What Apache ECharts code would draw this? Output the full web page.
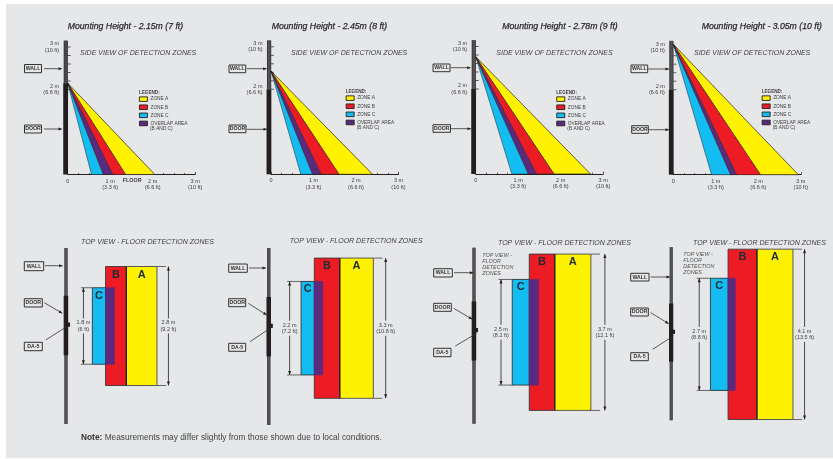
<!DOCTYPE html>
<html><head><meta charset="utf-8">
<style>html,body{margin:0;padding:0;background:#fff}#c{width:833px;height:459px}</style>
<script src="https://cdn.jsdelivr.net/npm/echarts@6/dist/echarts.min.js"></script>
</head><body><div id="c"></div>
<script>
// ---------- DATA (metres) ----------
const mountingTitles = ['Mounting Height - 2.15m (7 ft)','Mounting Height - 2.45m (8 ft)','Mounting Height - 2.78m (9 ft)','Mounting Height - 3.05m (10 ft)'];
const mountingHeights = [2.15, 2.43, 2.76, 3.07];
const doorTops = [2.15, 2, 2, 2];
// floor distance where each zone boundary lands, side view
const sideCStart = [0.56, 0.70, 0.85, 0.90];
const sideCEnd   = [0.84, 0.98, 1.24, 1.35];
const sideBEnd0  = [1.06, 1.18, 1.43, 1.49];
const sideAStart = [1.36, 1.60, 1.84, 2.05];
const sideAEnd   = [2.05, 2.39, 2.70, 2.94];
// top view zone boundaries
const topCLeft   = [0.58, 0.72, 0.86, 0.94];
const topBLeft   = [0.89, 1.03, 1.26, 1.38];
const topOverlap = [1.10, 1.23, 1.48, 1.56];
const topAB      = [1.38, 1.63, 1.86, 2.10];
const topARight  = [2.10, 2.42, 2.71, 3.00];
const topLengthAB = [2.8, 3.3, 3.7, 4.1];
const topLengthC  = [1.8, 2.2, 2.5, 2.7];
const dimLabelsC = ['1.8 m\n(6 ft)','2.2 m\n(7.2 ft)','2.5 m\n(8.2 ft)','2.7 m\n(8.8 ft)'];
const dimLabelsAB = ['2.8 m\n(9.2 ft)','3.3 m\n(10.8 ft)','3.7 m\n(12.1 ft)','4.1 m\n(13.5 ft)'];
const dimXC = [0.37, 0.45, 0.595, 0.66];
const dimXAB = [2.37, 2.71, 3.04, 3.29];
const xTickLabels = {0:'0',1:'1 m\n(3.3 ft)',2:'2 m\n(6.6 ft)',3:'3 m\n(10 ft)'};
const yTickLabels = {2:'2 m\n(6.6 ft)',3:'3 m\n(10 ft)'};
const wallTicks = [2,2.2,2.4,2.6,2.8,3];
const legendNames = ['ZONE A','ZONE B','ZONE C','OVERLAP AREA'];
const noteRest = ' Measurements may differ slightly from those shown due to local conditions.';

// ---------- LAYOUT (pixels) ----------
const W=833,H=459,S=42.5;
const sideOrigin=[[67.7,174.5],[271,174.3],[475.7,174],[673.3,174.7]];
const topOrigin=[[67.7,326],[270.5,328.2],[475.7,333],[672.8,337.2]];
const wallTopPx=[248,248,248,248], wallBottomPx=[424,425,425,425];
const doorCenterPx=[325.5,326.7,331.7,335.5];
const mountX=[67.7,271.7,502.3,701.7];
const sideHead=[[80,52.3],[291,52.3],[496.3,52.3],[694,52.3]];
const topHead=[[81,241.3],[289.7,240.3],[498,242.3],[693,242.3]];
const legendPos=[[139,93],[345.7,92],[556.3,93],[761.7,92]];
const topNotes=[null,null,[482.3,252.5],[683.3,251.5]];
const callouts=[
 // box l,r,t,b,text, line from, line to, arrow?
 [24.5,41.5,64.5,72.7,'WALL',[44,68.7],[62,68.7],1],[24.5,41.5,125,133,'DOOR',[44,129],[62,129],1],
 [229,245.7,65,72.7,'WALL',[246.7,68.7],[266.7,68.7],1],[229,246,125,132.7,'DOOR',[247,129.3],[267,129.3],1],
 [433,450,64,71.7,'WALL',[450.7,67.7],[470.7,67.7],1],[433,450.5,124.7,132.3,'DOOR',[451,128.7],[471,128.7],1],
 [631,647.7,65,72.7,'WALL',[648,69],[669,69],1],[631.7,648.3,125.7,133.3,'DOOR',[649,129.7],[669,129.7],1],
 [24.3,43.7,261.7,270.7,'WALL',[45,265.7],[62.7,265.7],1],[24.3,42.3,298.7,307,'DOOR',[44.3,302.7],[62.3,313.3],1],[24.3,42.3,342.3,350.7,'DA-5',[45.7,340],[66.7,326.7],0],
 [228.7,247.3,264,272.3,'WALL',[249,268],[266,268],1],[228.7,245.7,298.7,306.7,'DOOR',[248.3,303.3],[266.7,315],1],[228.7,245.7,343.3,351.3,'DA-5',[250,341.7],[270,328.3],0],
 [433.7,452.3,268.7,277,'WALL',[454,272.7],[473.3,272.7],1],[433.7,451.3,303.3,311.3,'DOOR',[453.7,308.3],[472.3,319.3],1],[433.7,451,348.3,356.7,'DA-5',[455.3,346],[476.7,333.3],0],
 [630.7,649,273.3,281,'WALL',[650.7,277],[670,277],1],[630.7,648.3,308,316,'DOOR',[650.7,312.7],[668.7,323.7],1],[630.7,648.3,352.7,360.7,'DA-5',[652.7,349.3],[673.3,336],0]
];
const FONT='"Liberation Sans",Arial,sans-serif';
const INK='#231f20', TXT='#3d3d3f', BG='#e6e7e9';
const COL={A:'#fff200',B:'#ed1c24',C:'#13bdf1',O:'#5b2a7e'};

const grids=[],xAxes=[],yAxes=[],series=[],titles=[],legends=[];
const base={type:'custom',silent:true,clip:false,animation:false,tooltip:{show:false}};

function polySeries(name,g,pts,fill,stroke,lw,z,dash){
  series.push(Object.assign({},base,{name,xAxisIndex:g,yAxisIndex:g,z,data:pts,itemStyle:{color:fill},
    renderItem(p,api){ if(p.dataIndex!==0) return;
      return {type:'polygon',shape:{points:pts.map(q=>api.coord(q))},style:{fill,stroke,lineWidth:lw,lineJoin:'bevel',lineDash:dash||null}}; }}));
}
function rectPts(x0,x1,y0,y1){return [[x0,y0],[x1,y0],[x1,y1],[x0,y1]];}

mountingTitles.forEach((t,i)=>{
  // ---- side view ----
  const [ox,oy]=sideOrigin[i], h=mountingHeights[i];
  let g=grids.length;
  grids.push({left:ox,top:oy-3*S,width:3*S,height:3*S,containLabel:false});
  xAxes.push({gridIndex:g,type:'value',min:0,max:3,interval:1,splitLine:{show:false},
    axisLine:{show:true,onZero:false,lineStyle:{color:INK,width:1}},
    axisTick:{show:true,inside:true,length:2.5,lineStyle:{color:INK,width:0.7}},
    minorTick:{show:true,splitNumber:4,length:1.5,lineStyle:{color:INK,width:0.7}},
    axisLabel:{show:true,margin:3.5,fontFamily:FONT,fontSize:5.5,lineHeight:6.3,color:TXT,verticalAlign:'top',showMinLabel:true,showMaxLabel:true,formatter:v=>xTickLabels[v]||''}});
  yAxes.push({gridIndex:g,type:'value',min:0,max:3,interval:1,splitLine:{show:false},axisLine:{show:false},axisTick:{show:false},
    axisLabel:{show:true,margin:8.5,fontFamily:FONT,fontSize:5.5,lineHeight:6.3,color:TXT,showMaxLabel:true,formatter:v=>yTickLabels[v]||''}});
  // wall ticks
  series.push(Object.assign({},base,{name:'wall ticks',xAxisIndex:g,yAxisIndex:g,z:2,data:wallTicks.map(v=>[0,v]),
    renderItem(p,api){const c=api.coord([0,api.value(1)]);
      return {type:'line',shape:{x1:c[0],y1:c[1],x2:c[0]+3,y2:c[1]},style:{stroke:INK,lineWidth:0.7}};}}));
  // wall
  polySeries('wall',g,rectPts(-0.095,0.005,doorTops[i],3.15),'#38383a',null,0,3);
  polySeries('wall texture',g,[[-0.045,doorTops[i]],[-0.045,3.15]],null,'#5c5c5f',2.4,3,[0.8,1.2]);
  polySeries('door',g,rectPts(-0.105,0.008,0,doorTops[i]),INK,null,0,3);
  // zones
  const tri=(a,b)=>[[0,h],[a,0],[b,0]];
  polySeries(legendNames[0],g,tri(sideAStart[i],sideAEnd[i]),COL.A,INK,0.7,4);
  polySeries(legendNames[1],g,tri(sideBEnd0[i],sideAStart[i]),COL.B,INK,0.45,4);
  polySeries(legendNames[2],g,tri(sideCStart[i],sideCEnd[i]),COL.C,INK,0.5,4);
  polySeries(legendNames[3],g,tri(sideCEnd[i],sideBEnd0[i]),COL.O,INK,0.45,4);

  // ---- top view ----
  const [tx,ty]=topOrigin[i];
  g=grids.length;
  grids.push({left:tx,top:ty-3*S,width:4*S,height:6*S});
  const hide={show:false};
  xAxes.push({gridIndex:g,type:'value',min:0,max:4,axisLine:hide,axisTick:hide,axisLabel:hide,splitLine:hide});
  yAxes.push({gridIndex:g,type:'value',min:-3,max:3,axisLine:hide,axisTick:hide,axisLabel:hide,splitLine:hide});
  const wT=(ty-wallTopPx[i])/S, wB=(ty-wallBottomPx[i])/S, dC=(ty-doorCenterPx[i])/S;
  polySeries('wall',g,rectPts(-0.08,0.0,wB,wT),'#38383a',null,0,3);
  polySeries('wall texture',g,[[-0.04,wB],[-0.04,wT]],null,'#5c5c5f',2,3,[0.8,1.2]);
  polySeries('door',g,rectPts(-0.095,0.012,dC-0.7,dC+0.7),INK,null,0,3);
  polySeries('sensor',g,rectPts(-0.02,0.055,dC-0.03,dC+0.07),INK,null,0,4);
  const la=topLengthAB[i]/2, lc=topLengthC[i]/2;
  polySeries(legendNames[1],g,rectPts(topBLeft[i],topAB[i],-la,la),COL.B,'#3a3a3a',0.9,4);
  polySeries(legendNames[0],g,rectPts(topAB[i],topARight[i],-la,la),COL.A,'#4a4a4a',0.9,4);
  polySeries(legendNames[2],g,rectPts(topCLeft[i],topBLeft[i],-lc,lc),COL.C,'#333',0.9,5);
  polySeries(legendNames[3],g,rectPts(topBLeft[i],topOverlap[i],-lc,lc),COL.O,COL.O,0.6,5);
  polySeries('divider',g,[[topAB[i],-la],[topAB[i],la]],null,INK,1.3,6);
  // zone letters
  const letters=[['A',(topAB[i]+topARight[i])/2,la],['B',(topBLeft[i]+topAB[i])/2,la],['C',(topCLeft[i]+topBLeft[i])/2,lc]];
  series.push(Object.assign({},base,{name:'letters',xAxisIndex:g,yAxisIndex:g,z:7,data:letters.map(l=>[l[1],l[2]]),
    renderItem(p,api){const c=api.coord([api.value(0),api.value(1)]);
      return {type:'text',style:{x:c[0],y:c[1]+8,text:letters[p.dataIndex][0],align:'center',verticalAlign:'middle',fontFamily:FONT,fontWeight:'bold',fontSize:11,fill:'#1d2b33'}};}}));
  // dimensions
  const dims=[[dimXC[i],lc,dimLabelsC[i],topCLeft[i]],[dimXAB[i],la,dimLabelsAB[i],topARight[i]]];
  series.push(Object.assign({},base,{name:'dimensions',xAxisIndex:g,yAxisIndex:g,z:3,data:dims.map(d=>[d[0],d[1]]),
    renderItem(p,api){
      const d=dims[p.dataIndex], a=api.coord([d[0],d[1]]), b=api.coord([d[0],-d[1]]), e=api.coord([d[3],d[1]]);
      const st={stroke:INK,lineWidth:0.8,fill:null};
      const isC=p.dataIndex===0;
      const ex0=isC?a[0]-2.5:e[0], ex1=isC?e[0]:e[0]+9;
      const mid=(a[1]+b[1])/2;
      const head=(y,dir)=>({type:'polygon',shape:{points:[[a[0],y],[a[0]-1.5,y+dir*4],[a[0]+1.5,y+dir*4]]},style:{fill:INK}});
      return {type:'group',children:[
        {type:'line',shape:{x1:a[0],y1:a[1],x2:a[0],y2:b[1]},style:st},
        {type:'line',shape:{x1:ex0,y1:a[1],x2:ex1,y2:a[1]},style:{stroke:'#444',lineWidth:0.8}},
        {type:'line',shape:{x1:ex0,y1:b[1],x2:ex1,y2:b[1]},style:{stroke:'#444',lineWidth:0.8}},
        head(a[1],1),head(b[1],-1),
        {type:'rect',shape:{x:a[0]-9,y:mid-7.5,width:18,height:15},style:{fill:BG}},
        {type:'text',style:{x:a[0],y:mid,text:d[2],align:'center',verticalAlign:'middle',fontFamily:FONT,fontSize:5.5,lineHeight:6.3,fill:TXT}}
      ]};
    }}));

  // titles
  titles.push({text:t,left:mountX[i],top:22,textStyle:{fontFamily:FONT,fontStyle:'italic',fontWeight:'normal',fontSize:8.7,color:'#2a2a2c',textBorderColor:'#2a2a2c',textBorderWidth:0.25},padding:0});
  titles.push({text:'SIDE VIEW OF DETECTION ZONES',left:sideHead[i][0],top:sideHead[i][1]-3.2,textStyle:{fontFamily:FONT,fontStyle:'italic',fontWeight:'normal',fontSize:7,color:TXT},padding:0});
  titles.push({text:'TOP VIEW - FLOOR DETECTION ZONES',left:topHead[i][0],top:topHead[i][1]-3.2,textStyle:{fontFamily:FONT,fontStyle:'italic',fontWeight:'normal',fontSize:7,color:TXT},padding:0});
  titles.push({text:'LEGEND:',left:legendPos[i][0],top:legendPos[i][1]-2.5,textStyle:{fontFamily:FONT,fontWeight:'bold',fontSize:4.6,color:TXT},padding:0});
  titles.push({text:'(B AND C)',left:legendPos[i][0]+11,top:legendPos[i][1]+33.5,textStyle:{fontFamily:FONT,fontWeight:'normal',fontSize:4.8,color:TXT},padding:0});
  if(topNotes[i]) titles.push({text:'TOP VIEW -\nFLOOR\nDETECTION\nZONES',left:topNotes[i][0],top:topNotes[i][1],textStyle:{fontFamily:FONT,fontStyle:'italic',fontWeight:'normal',fontSize:5.4,lineHeight:5.9,color:'#555'},padding:0});
  legends.push({data:legendNames,orient:'vertical',left:legendPos[i][0],top:legendPos[i][1]+3.4,padding:0,itemWidth:8,itemHeight:4.6,itemGap:2.6,icon:'rect',selectedMode:false,
    itemStyle:{borderColor:INK,borderWidth:0.9},textStyle:{fontFamily:FONT,fontSize:4.8,color:TXT,padding:[0,0,0,-2]}});
});
titles.push({text:'{b|Note:}'+noteRest,left:81,top:434,padding:0,textStyle:{rich:{b:{fontFamily:FONT,fontWeight:'bold',fontSize:8.35,color:'#333'}},fontFamily:FONT,fontWeight:'normal',fontSize:8.35,color:'#444'}});
titles.push({text:'FLOOR',left:122.7,top:177.8,padding:0,textStyle:{fontFamily:FONT,fontWeight:'bold',fontSize:5.4,color:TXT}});

const graphic=[{type:'rect',z:-10,silent:true,shape:{x:6,y:4,width:W-6,height:454},style:{fill:BG}}];
callouts.forEach(c=>{
  const [l,r,t,b,txt,f,e,ar]=c;
  graphic.push({type:'rect',z:20,shape:{x:l,y:t,width:r-l,height:b-t},style:{fill:BG,stroke:'#333',lineWidth:1}});
  graphic.push({type:'text',z:21,style:{x:(l+r)/2,y:(t+b)/2,text:txt,align:'center',verticalAlign:'middle',fontFamily:FONT,fontWeight:'bold',fontSize:5.2,fill:'#333'}});
  graphic.push({type:'line',z:20,shape:{x1:f[0],y1:f[1],x2:e[0],y2:e[1]},style:{stroke:'#333',lineWidth:0.8}});
  if(ar){const a=Math.atan2(e[1]-f[1],e[0]-f[0]),n=3.5,w=1.5;
    const bx=e[0]-n*Math.cos(a),by=e[1]-n*Math.sin(a);
    graphic.push({type:'polygon',z:20,shape:{points:[e,[bx-w*Math.sin(a),by+w*Math.cos(a)],[bx+w*Math.sin(a),by-w*Math.cos(a)]]},style:{fill:'#222'}});}
});

const chart=echarts.init(document.getElementById('c'),null,{renderer:'canvas',width:W,height:H});
chart.setOption({animation:false,backgroundColor:'#fff',tooltip:{show:false},grid:grids,xAxis:xAxes,yAxis:yAxes,title:titles,legend:legends,series,graphic});
</script></body></html>
